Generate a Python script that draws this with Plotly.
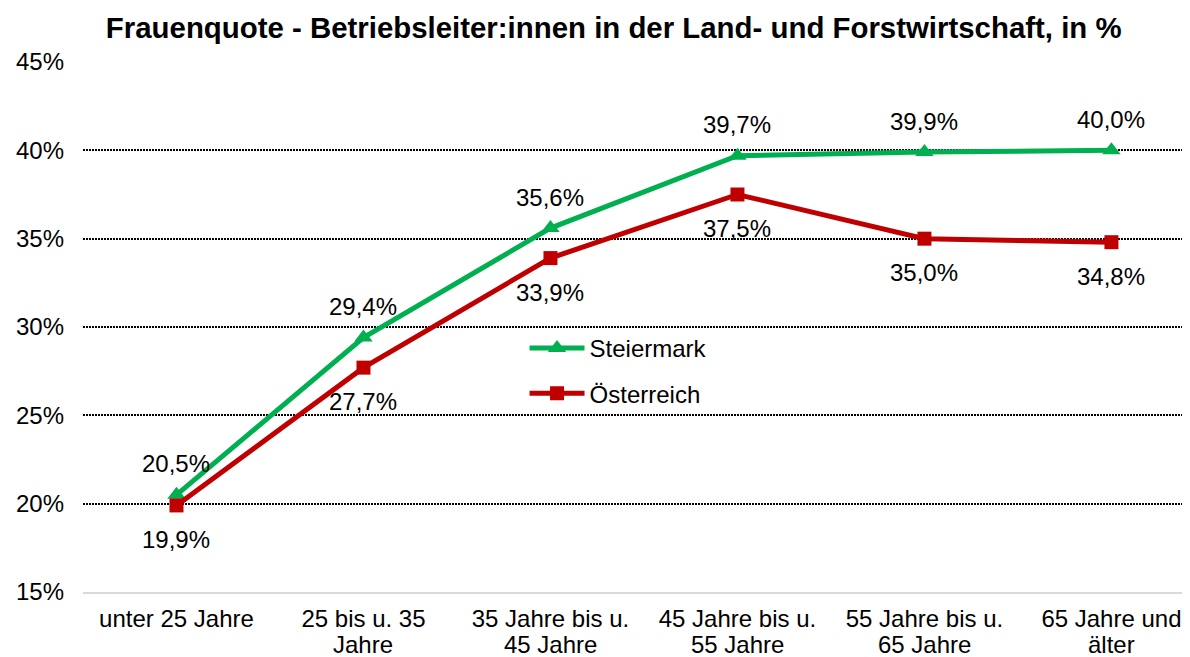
import plotly.graph_objects as go

categories = ["unter 25 Jahre", "25 bis u. 35<br>Jahre", "35 Jahre bis u.<br>45 Jahre",
              "45 Jahre bis u.<br>55 Jahre", "55 Jahre bis u.<br>65 Jahre", "65 Jahre und<br>älter"]
steiermark = [20.5, 29.4, 35.6, 39.7, 39.9, 40.0]
oesterreich = [19.9, 27.7, 33.9, 37.5, 35.0, 34.8]
y_ticks = [15, 20, 25, 30, 35, 40, 45]

GREEN = "#00B050"
RED = "#C00000"
FONT = "Liberation Sans, Arial, sans-serif"
FS = 24

x_idx = list(range(len(categories)))
first_lines = [c.split("<br>")[0] for c in categories]
second_lines = [c.split("<br>")[1] if "<br>" in c else "" for c in categories]

fig = go.Figure()
fig.add_trace(go.Scatter(
    x=x_idx, y=steiermark, name="Steiermark", mode="lines+markers",
    line=dict(color=GREEN, width=5),
    marker=dict(symbol="triangle-up", size=16, color=GREEN),
    legendgroup="a",
))
fig.add_trace(go.Scatter(
    x=x_idx, y=oesterreich, name="Österreich", mode="lines+markers",
    line=dict(color=RED, width=5),
    marker=dict(symbol="square", size=14, color=RED),
    legendgroup="b",
))

def fmt(v):
    return f"{v:.1f}".replace(".", ",") + "%"

for i, v in enumerate(steiermark):
    fig.add_annotation(x=i, y=v, text=fmt(v), showarrow=False, yshift=31,
                       font=dict(size=FS, color="#000", family=FONT))
for i, v in enumerate(oesterreich):
    fig.add_annotation(x=i, y=v, text=fmt(v), showarrow=False, yshift=-34,
                       font=dict(size=FS, color="#000", family=FONT))
# second line of the category labels (tighter line spacing than plotly's default)
for i, t in enumerate(second_lines):
    if t:
        fig.add_annotation(x=i, xref="x", y=0, yref="paper", text=t, showarrow=False,
                           yanchor="middle", yshift=-52, borderpad=0,
                           font=dict(size=FS, color="#000", family=FONT))

fig.update_layout(
    width=1190, height=657,
    margin=dict(l=75, r=0, t=54, b=73),
    paper_bgcolor="white", plot_bgcolor="white",
    font=dict(family=FONT, size=FS, color="#000"),
    title=dict(text="<b>Frauenquote - Betriebsleiter:innen in der Land- und Forstwirtschaft, in %</b>",
               x=0.509, xanchor="center", y=0.97, yanchor="middle",
               font=dict(size=29.4, family=FONT, color="#000")),
    showlegend=True,
    legend=dict(x=0.396, y=0.502, xanchor="left", yanchor="top",
                bgcolor="rgba(0,0,0,0)", font=dict(size=FS, family=FONT),
                traceorder="grouped", tracegroupgap=11, itemwidth=55),
    xaxis=dict(
        tickmode="array", tickvals=x_idx, ticktext=first_lines,
        range=[-0.5, 5.463], showgrid=False, zeroline=False,
        showline=True, linecolor="#D9D9D9", linewidth=2,
        ticks="", ticklabelstandoff=4, tickfont=dict(size=FS, family=FONT),
    ),
    yaxis=dict(
        range=[15, 45], tickmode="array", tickvals=y_ticks,
        ticktext=[f"{t}%" for t in y_ticks],
        showgrid=True, gridcolor="#000", gridwidth=1.5, griddash="1.5px,1.5px",
        zeroline=False, showline=False, ticks="", ticklabelstandoff=18,
        tickfont=dict(size=FS, family=FONT),
    ),
)

fig.write_html("out.html")
